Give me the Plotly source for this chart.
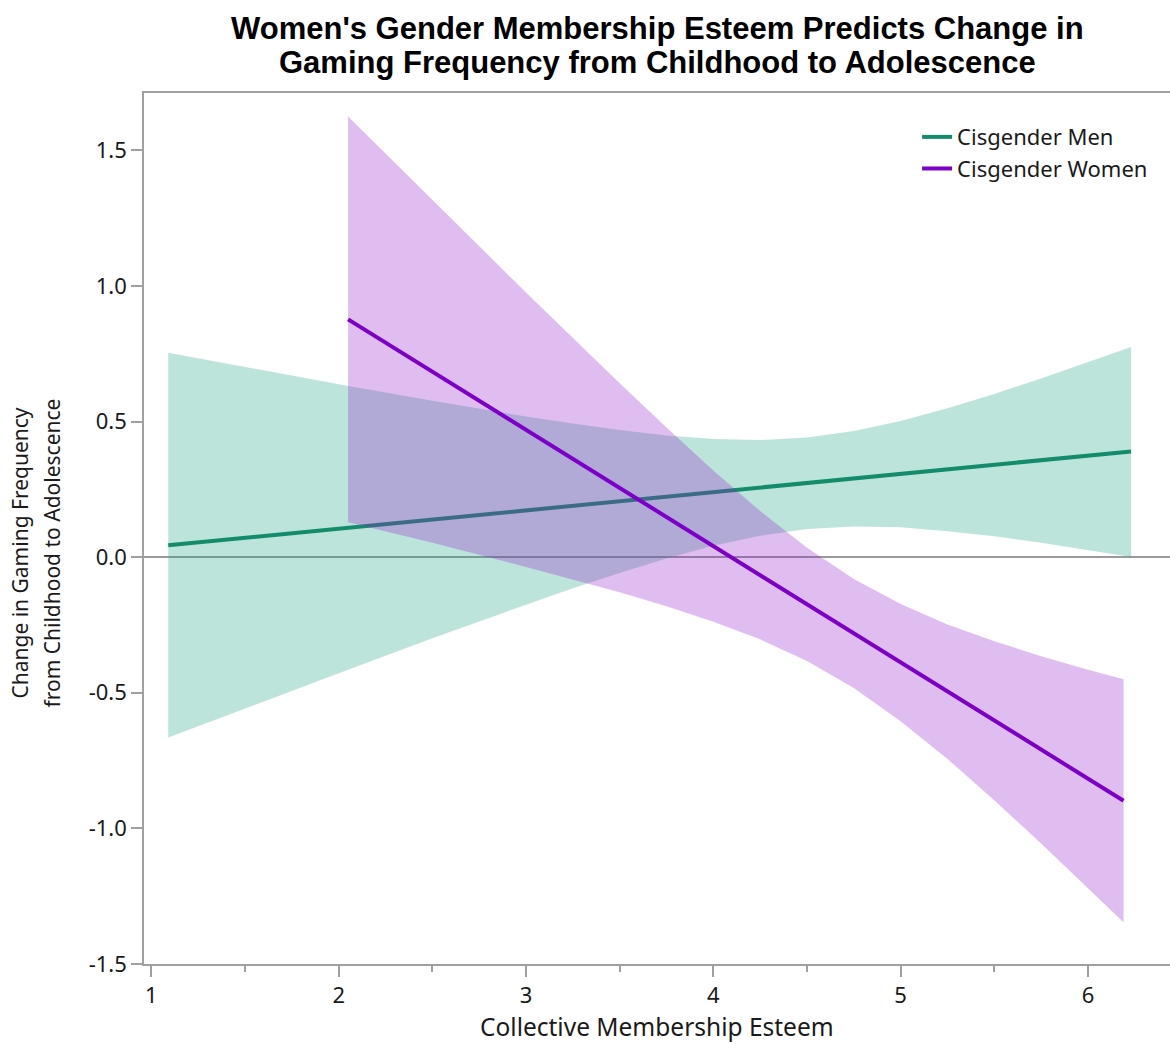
import plotly.graph_objects as go

# Fitted lines (simple slopes) by gender group
men_x = [1.09, 6.23]
men_fit = [0.044, 0.390]
women_x = [2.05, 6.19]
women_fit = [0.877, -0.898]

# 95% confidence bands around each fitted line
men_band_x = [1.09, 1.5, 2.0, 2.5, 3.0, 3.25, 3.5, 3.75, 4.0, 4.25, 4.5, 4.75, 5.0, 5.25, 5.5, 5.75, 6.0, 6.23]
men_upper = [0.754, 0.701, 0.638, 0.577, 0.519, 0.493, 0.469, 0.449, 0.436, 0.432, 0.441, 0.465, 0.502, 0.549, 0.602, 0.659, 0.718, 0.775]
men_lower = [-0.665, -0.557, -0.428, -0.299, -0.175, -0.115, -0.058, -0.005, 0.042, 0.079, 0.104, 0.113, 0.110, 0.096, 0.077, 0.053, 0.027, 0.001]

women_band_x = [2.05, 2.5, 3.0, 3.5, 3.75, 4.0, 4.25, 4.5, 4.75, 5.0, 5.25, 5.5, 5.75, 6.0, 6.19]
women_upper = [1.625, 1.317, 0.976, 0.641, 0.478, 0.320, 0.170, 0.035, -0.080, -0.173, -0.248, -0.310, -0.365, -0.415, -0.450]
women_lower = [0.129, 0.053, -0.036, -0.129, -0.181, -0.238, -0.303, -0.383, -0.482, -0.605, -0.744, -0.896, -1.056, -1.221, -1.346]

x_ticks = [1, 2, 3, 4, 5, 6]
y_ticks = [-1.5, -1.0, -0.5, 0.0, 0.5, 1.0, 1.5]

title_lines = [
    "Women's Gender Membership Esteem Predicts Change in",
    "Gaming Frequency from Childhood to Adolescence",
]
y_title_lines = ["Change in Gaming Frequency", "from Childhood to Adolescence"]
x_title = "Collective Membership Esteem"

MEN_LINE = "rgb(18,140,106)"
MEN_FILL = "rgba(38,165,132,0.3)"
WOMEN_LINE = "rgb(125,0,200)"
WOMEN_FILL = "rgba(152,38,205,0.3)"
AXIS_GREY = "#a0a0a0"
FONT = "Noto Sans"
TEXT = "#1a1a1a"


def band(xs, upper, lower, fill):
    return go.Scatter(
        x=list(xs) + list(xs)[::-1],
        y=list(upper) + list(lower)[::-1],
        mode="lines",
        line=dict(width=0),
        fill="toself",
        fillcolor=fill,
        hoverinfo="skip",
        showlegend=False,
    )


fig = go.Figure()
fig.add_trace(band(men_band_x, men_upper, men_lower, MEN_FILL))
fig.add_trace(go.Scatter(x=men_x, y=men_fit, mode="lines", name="Cisgender Men",
                         line=dict(color=MEN_LINE, width=4)))
fig.add_trace(band(women_band_x, women_upper, women_lower, WOMEN_FILL))
fig.add_trace(go.Scatter(x=women_x, y=women_fit, mode="lines", name="Cisgender Women",
                         line=dict(color=WOMEN_LINE, width=4)))

annotations = [
    dict(text=title_lines[0], xref="paper", yref="paper", x=0.5, y=1.0745,
         xanchor="center", yanchor="middle", showarrow=False,
         font=dict(family="Liberation Sans", size=31, color="black", weight="bold")),
    dict(text=title_lines[1], xref="paper", yref="paper", x=0.5, y=1.0355,
         xanchor="center", yanchor="middle", showarrow=False,
         font=dict(family="Liberation Sans", size=31, color="black", weight="bold")),
    dict(text=y_title_lines[0], textangle=-90, xref="paper", yref="paper",
         x=-0.1212, y=0.472, xanchor="center", yanchor="middle", showarrow=False,
         font=dict(size=21, color=TEXT)),
    dict(text=y_title_lines[1], textangle=-90, xref="paper", yref="paper",
         x=-0.090, y=0.472, xanchor="center", yanchor="middle", showarrow=False,
         font=dict(size=21, color=TEXT)),
    dict(text=x_title, xref="paper", yref="paper", x=0.5, y=-0.0719,
         xanchor="center", yanchor="middle", showarrow=False,
         font=dict(size=24.5, color=TEXT)),
]

fig.update_layout(
    width=1170,
    height=1044,
    margin=dict(l=144.3, r=0, t=92.7, b=79.7),
    paper_bgcolor="white",
    plot_bgcolor="white",
    font=dict(family=FONT, size=22, color=TEXT),
    legend=dict(
        x=0.7535, y=0.9735, xanchor="left", yanchor="top",
        bgcolor="rgba(0,0,0,0)", font=dict(size=22, color=TEXT),
        tracegroupgap=0,
    ),
    xaxis=dict(
        range=[0.9605, 6.438],
        tickvals=x_ticks,
        ticks="outside", ticklen=11, tickwidth=1.5, tickcolor=AXIS_GREY,
        minor=dict(dtick=0.5, tick0=0.5, ticks="outside", ticklen=6, tickwidth=1.5, tickcolor=AXIS_GREY),
        showgrid=False, zeroline=False,
        showline=True, linecolor=AXIS_GREY, linewidth=1.5, mirror=True,
        tickfont=dict(size=22),
    ),
    yaxis=dict(
        range=[-1.5, 1.7115],
        tickvals=y_ticks,
        ticktext=[f"{v:.1f}" for v in y_ticks],
        ticks="outside", ticklen=11, tickwidth=1.5, tickcolor=AXIS_GREY,
        showgrid=False,
        zeroline=True, zerolinecolor="#9a9a9a", zerolinewidth=2,
        showline=True, linecolor=AXIS_GREY, linewidth=1.5,
        tickfont=dict(size=22),
    ),
    annotations=annotations,
)

fig.write_html("out.html")
